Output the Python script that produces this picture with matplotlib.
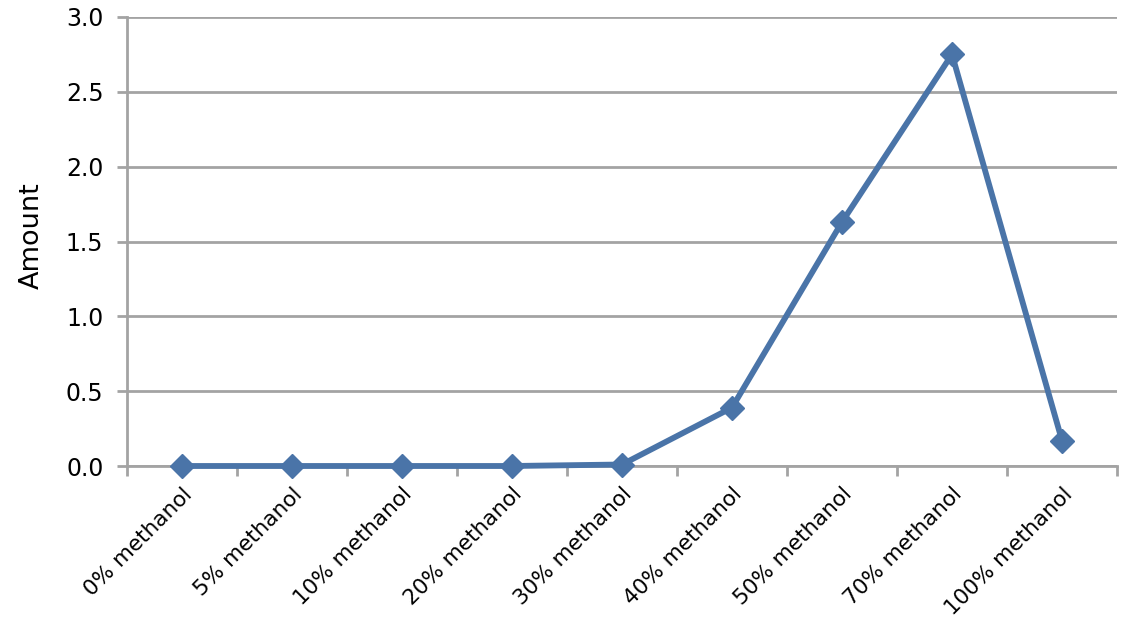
import matplotlib
matplotlib.use('Agg')
import matplotlib.pyplot as plt
from matplotlib.ticker import FixedLocator, NullFormatter

# Data
categories = ['0% methanol', '5% methanol', '10% methanol', '20% methanol', '30% methanol',
              '40% methanol', '50% methanol', '70% methanol', '100% methanol']
amounts = [0.0, 0.0, 0.0, 0.0, 0.01, 0.39, 1.63, 2.75, 0.17]
y_ticks = [0.0, 0.5, 1.0, 1.5, 2.0, 2.5, 3.0]

plt.rcParams['font.family'] = ['DejaVu Sans']

fig = plt.figure(figsize=(11.32, 6.27), dpi=100)
ax = fig.add_axes([127/1132, 1 - 466/627, 990/1132, 449/627])

x = list(range(len(categories)))
ax.plot(x, amounts, color='#4A74A8', linewidth=4.2, marker='D', markersize=12,
        markerfacecolor='#4A74A8', markeredgecolor='#4A74A8', zorder=3, clip_on=False)

ax.set_xlim(-0.5, len(categories) - 0.5)
ax.set_ylim(0, 3.0)

# gridlines
ax.set_yticks(y_ticks)
ax.set_yticklabels(['%.1f' % v for v in y_ticks], fontsize=17)
ax.yaxis.grid(True, color='#A3A3A3', linewidth=2)
ax.set_axisbelow(True)

# category labels centred, tick marks at boundaries
ax.set_xticks(x)
ax.set_xticklabels(categories, rotation=45, ha='right', rotation_mode='anchor', fontsize=15.5)
ax.tick_params(axis='x', which='major', length=0, pad=13)
ax.xaxis.set_minor_locator(FixedLocator([i - 0.5 for i in range(len(categories) + 1)]))
ax.xaxis.set_minor_formatter(NullFormatter())
ax.tick_params(axis='x', which='minor', length=7, width=2, color='#A3A3A3', direction='out')
ax.tick_params(axis='y', length=7, width=2, color='#A3A3A3', pad=10)

for side in ['top', 'right']:
    ax.spines[side].set_visible(False)
for side in ['left', 'bottom']:
    ax.spines[side].set_color('#A3A3A3')
    ax.spines[side].set_linewidth(2)

ax.set_ylabel('Amount', fontsize=19.5)
ax.yaxis.set_label_coords(-0.083, 0.513)

fig.savefig('out.png', dpi=100)
